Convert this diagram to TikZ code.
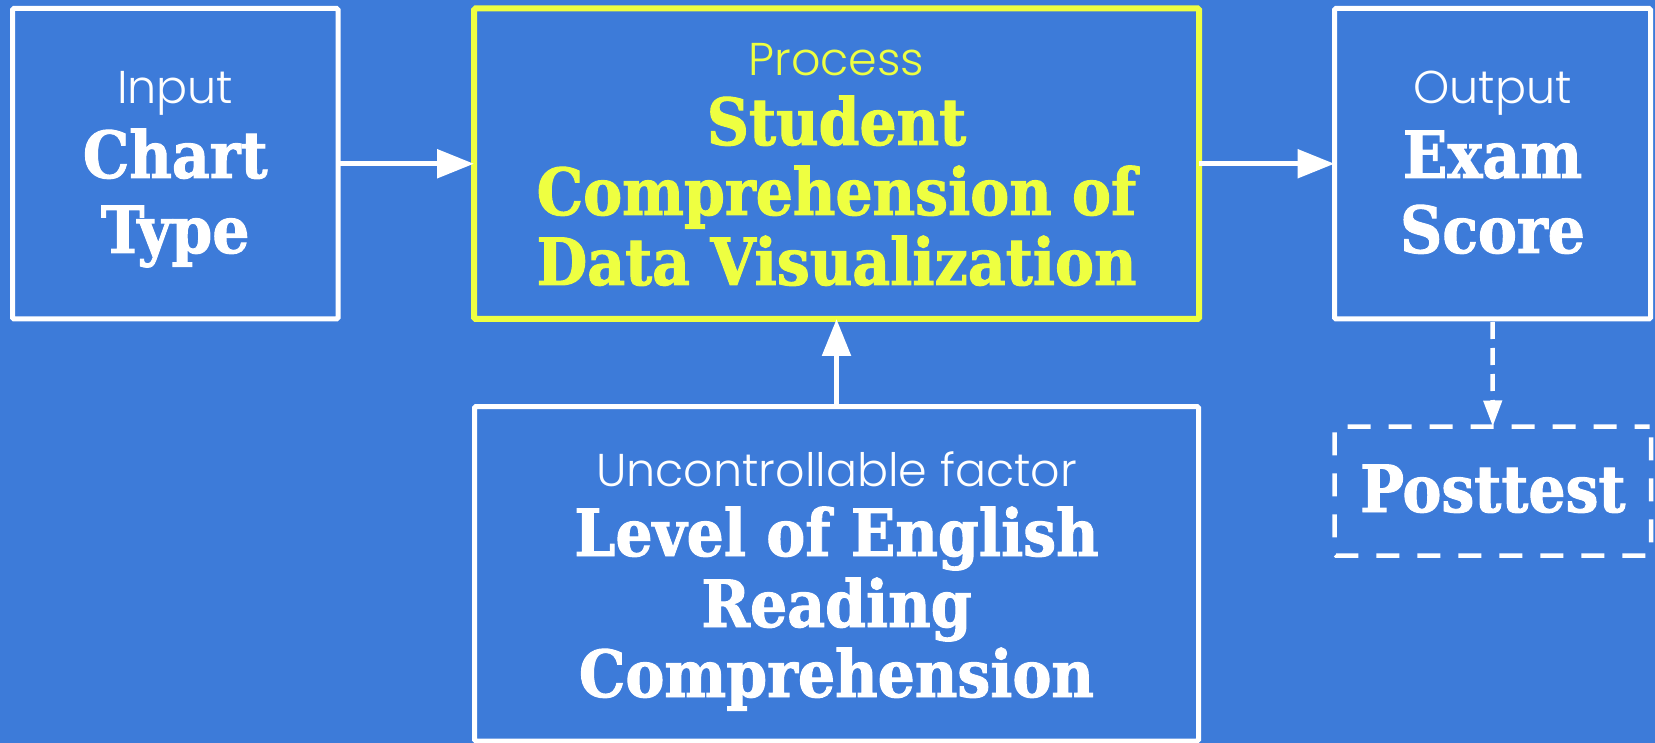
\documentclass[tikz,border=0pt]{standalone}
\usepackage{fontspec}
\newfontfamily\boldfont{DejaVu Serif Condensed Bold}[FakeBold=1.5]
\newfontfamily\lightfont{Poppins Light}
\usetikzlibrary{arrows.meta}
\definecolor{bg}{RGB}{61,123,217}
\definecolor{yel}{RGB}{238,255,65}
\begin{document}
\begin{tikzpicture}[x=1pt,y=-1pt,
  box/.style={draw=white, line width=5pt, rounded corners=1.5pt, inner sep=0pt, outer sep=0pt},
  ybox/.style={box, draw=yel, line width=6pt},
  dbox/.style={box, line width=4.5pt, dash pattern=on 23pt off 18pt, dash phase=8pt},
  lt/.style={font=\lightfont\fontsize{46}{46}\selectfont, text=white, inner sep=0pt, anchor=base},
  bd/.style={font=\boldfont\fontsize{65}{65}\selectfont, text=white, inner sep=0pt, anchor=base},
  arr/.style={draw=white, line width=5.5pt, -{Triangle[length=37pt,width=28pt]}},
  darr/.style={draw=white, line width=4.5pt, dash pattern=on 17pt off 9pt, dash phase=-3pt, -{Triangle[length=26pt,width=18pt]}}
]
\useasboundingbox (0,0) rectangle (1655,743);
\fill[bg] (0,0) rectangle (1655,743);

% boxes
\node[box, minimum width=325.5pt, minimum height=310.5pt] (input) at (175.25,163.75) {};
\node[ybox, minimum width=725pt, minimum height=310.5pt] (process) at (836.5,163.75) {};
\node[box, minimum width=316pt, minimum height=310.5pt] (output) at (1492.5,163.75) {};
\node[box, minimum width=724pt, minimum height=334.5pt] (uncon) at (836.5,573.75) {};
\node[dbox, minimum width=316.5pt, minimum height=129pt] (post) at (1492.75,491) {};

% texts
\node[lt] (t1) at (175.25,104) {Input};
\node[bd] (t2) at (175.25,178) {Chart};
\node[bd] (t3) at (175.25,253) {Type};

\node[lt, text=yel] (p1) at (836.5,76) {Process};
\node[bd, text=yel] (p2) at (836.5,145) {Student};
\node[bd, text=yel] (p3) at (836.5,215) {Comprehension of};
\node[bd, text=yel] (p4) at (836.5,285) {Data Visualization};

\node[lt] (o1) at (1492.5,104) {Output};
\node[bd] (o2) at (1492.5,178) {Exam};
\node[bd] (o3) at (1492.5,253) {Score};

\node[lt] (u1) at (836.5,486) {Uncontrollable factor};
\node[bd] (u2) at (836.5,556) {Level of English};
\node[bd] (u3) at (836.5,627) {Reading};
\node[bd] (u4) at (836.5,697) {Comprehension};

\node[bd] (s1) at (1492.75,512) {Posttest};

% connectors
\draw[arr] (input.east) -- (process.west);
\draw[arr] (process.east) -- (output.west);
\draw[arr] (uncon.north) -- (process.south);
\draw[darr] (output.south) -- (post.north);
\end{tikzpicture}
\end{document}
